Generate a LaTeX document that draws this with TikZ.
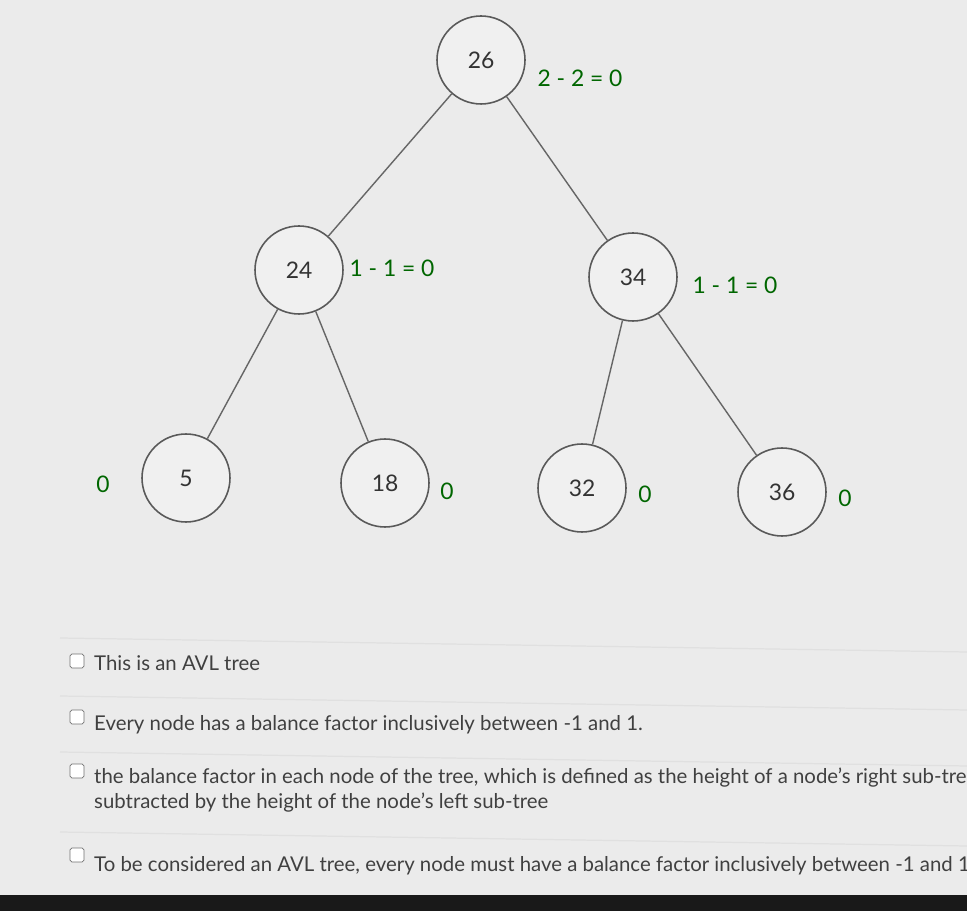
\documentclass[tikz,border=0pt]{standalone}
\usepackage{fontspec}
\setmainfont{Lato}
\begin{document}
\begin{tikzpicture}[x=0.02cm,y=-0.02cm,
  tn/.style={circle,draw=black!65,fill=white!94!black,line width=0.9pt,minimum size=1.76cm,inner sep=0pt,font=\fontsize{13}{15}\selectfont,text=black!80},
  bf/.style={text=green!40!black,font=\fontsize{13}{15}\selectfont},
  ed/.style={draw=black!60,line width=0.8pt},
  opt/.style={anchor=west,text=black!75,font=\fontsize{11.6}{14.5}\selectfont,align=left},
  cb/.style={draw=black!55,fill=white,rounded corners=1pt,minimum width=0.28cm,minimum height=0.28cm,inner sep=0pt,text height=0pt,text depth=0pt},
  sep/.style={draw=black!12,line width=0.7pt}]
\useasboundingbox (0,0) rectangle (967,911);
\fill[white!92!black] (0,0) rectangle (967,911);
\fill[black!90] (0,895) rectangle (967,911);
\node[tn] (n26) at (481,60) {26};
\node[tn] (n24) at (299,270) {24};
\node[tn] (n34) at (633,277) {34};
\node[tn] (n5) at (186,478) {5};
\node[tn] (n18) at (385,483) {18};
\node[tn] (n32) at (582,488) {32};
\node[tn] (n36) at (782,492) {36};
\draw[ed] (n26) -- (n24);
\draw[ed] (n26) -- (n34);
\draw[ed] (n24) -- (n5);
\draw[ed] (n24) -- (n18);
\draw[ed] (n34) -- (n32);
\draw[ed] (n34) -- (n36);
\node[bf] (b26) at (580,78) {2 - 2 = 0};
\node[bf] (b24) at (392,268) {1 - 1 = 0};
\node[bf] (b34) at (735,285) {1 - 1 = 0};
\node[bf] (b5) at (103,484) {0};
\node[bf] (b18) at (447,491) {0};
\node[bf] (b32) at (645,494) {0};
\node[bf] (b36) at (845,498) {0};
\draw[sep] (60,638) -- (967,652);
\draw[sep] (60,696) -- (967,710);
\draw[sep] (60,752) -- (967,766);
\draw[sep] (60,832) -- (967,846);
\node[cb] (c1) at (77,661) {};
\node[opt] (t1) at (88,663) {This is an AVL tree};
\node[cb] (c2) at (77,717) {};
\node[opt] (t2) at (88,725) {Every node has a balance factor inclusively between -1 and 1.};
\node[cb] (c3) at (77,771) {};
\node[opt] (t3) at (88,790) {the balance factor in each node of the tree, which is defined as the height of a node's right sub-tree\\subtracted by the height of the node's left sub-tree};
\node[cb] (c4) at (77,855) {};
\node[opt] (t4) at (88,866) {To be considered an AVL tree, every node must have a balance factor inclusively between -1 and 1.};
\end{tikzpicture}
\end{document}
